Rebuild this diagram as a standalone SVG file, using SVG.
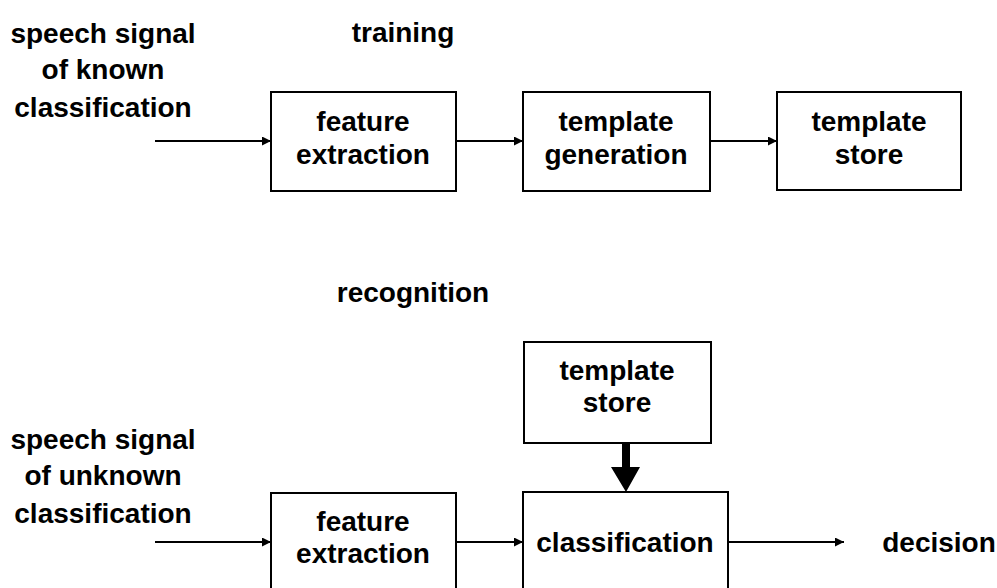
<svg xmlns="http://www.w3.org/2000/svg" width="997" height="588" viewBox="0 0 997 588">
  <style>
    text { font-family: "Liberation Sans", Arial, sans-serif; font-weight: bold; font-size: 28px; fill: #000; text-anchor: middle; }
    .title { font-size: 28px; }
    .box { fill: #fff; stroke: #000; stroke-width: 2; }
    .wire { stroke: #000; stroke-width: 2; fill: none; marker-end: url(#head); }
  </style>
  <defs>
    <marker id="head" viewBox="0 0 10 10" refX="10" refY="5" markerUnits="userSpaceOnUse" markerWidth="9" markerHeight="9" orient="auto">
      <path d="M0,0 L10,5 L0,10 z" fill="#000"/>
    </marker>
  </defs>
  <rect width="997" height="588" fill="#fff"/>

  <!-- section titles -->
  <text class="title" x="403" y="42">training</text>
  <text class="title" x="413" y="302">recognition</text>

  <!-- input labels -->
  <g id="input-known">
    <text x="103" y="43">speech signal</text>
    <text x="103" y="79">of known</text>
    <text x="103" y="117">classification</text>
  </g>
  <g id="input-unknown">
    <text x="103" y="449">speech signal</text>
    <text x="103" y="485">of unknown</text>
    <text x="103" y="523">classification</text>
  </g>

  <!-- training chain -->
  <g id="train-feature">
    <rect class="box" x="271" y="92" width="185" height="99"/>
    <text x="363" y="131">feature</text>
    <text x="363" y="164">extraction</text>
  </g>
  <g id="train-generation">
    <rect class="box" x="523" y="92" width="187" height="99"/>
    <text x="616" y="131">template</text>
    <text x="616" y="164">generation</text>
  </g>
  <g id="train-store">
    <rect class="box" x="777" y="92" width="184" height="98"/>
    <text x="869" y="131">template</text>
    <text x="869" y="164">store</text>
  </g>

  <!-- recognition chain -->
  <g id="rec-store">
    <rect class="box" x="524" y="342" width="187" height="101"/>
    <text x="617" y="380">template</text>
    <text x="617" y="412">store</text>
  </g>
  <g id="rec-feature">
    <rect class="box" x="271" y="493" width="185" height="104"/>
    <text x="363" y="531">feature</text>
    <text x="363" y="563">extraction</text>
  </g>
  <g id="rec-classification">
    <rect class="box" x="523" y="492" width="205" height="105"/>
    <text x="625" y="552">classification</text>
  </g>
  <g id="output">
    <text x="939" y="552">decision</text>
  </g>

  <g id="connectors">
    <line class="wire" x1="155" y1="141" x2="271" y2="141"/>
    <line class="wire" x1="456" y1="141" x2="523" y2="141"/>
    <line class="wire" x1="710" y1="141" x2="777" y2="141"/>
    <line class="wire" x1="155" y1="542" x2="271" y2="542"/>
    <line class="wire" x1="456" y1="542" x2="523" y2="542"/>
    <line class="wire" x1="728" y1="542" x2="844" y2="542"/>
    <!-- heavy feed from the store into classification -->
    <path d="M622,443 L630,443 L630,467 L640,467 L626,492 L611,467 L622,467 z" fill="#000"/>
  </g>
</svg>
